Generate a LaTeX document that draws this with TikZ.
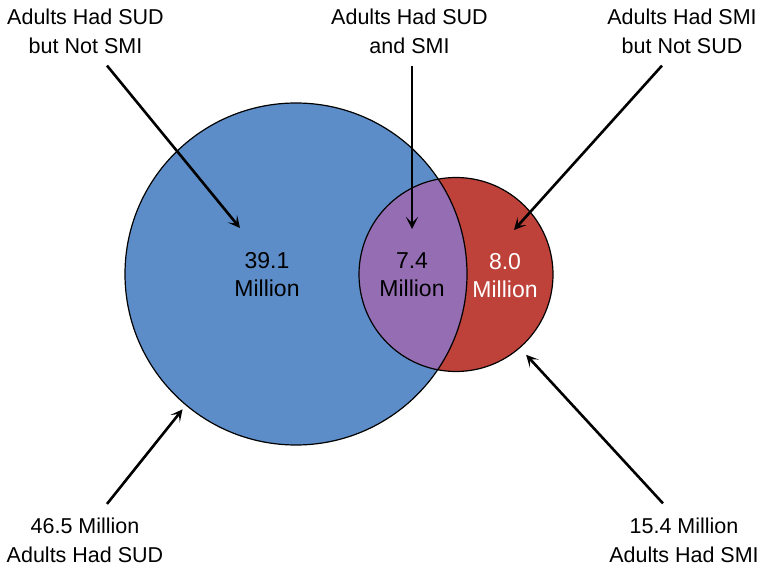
\documentclass[tikz,border=0pt]{standalone}
\usepackage{fontspec}
\setmainfont{Liberation Sans}
\usetikzlibrary{arrows.meta}
\definecolor{sudblue}{RGB}{92,141,200}
\definecolor{smired}{RGB}{190,66,58}
\definecolor{bothpurple}{RGB}{148,109,178}
\begin{document}
\begin{tikzpicture}[x=1pt,y=1pt,yscale=-1,xscale=1,
  lbl/.style={align=center,inner sep=3pt,font=\fontsize{21.5}{29}\selectfont},
  num/.style={align=center,inner sep=3pt,font=\fontsize{23}{28}\selectfont},
  ring/.style={circle,inner sep=0pt,line width=1.2pt},
  pointer/.style={line width=2.6pt,-{Stealth[length=12pt,width=12pt,inset=6pt]}}]
\useasboundingbox (0,0) rectangle (770,569);

%Circles
\node [ring,fill=sudblue,minimum size=342pt] (sud) at (296,274) {};
\node [ring,fill=smired,minimum size=194pt] (smi) at (456,274.5) {};
\begin{scope}
\clip (sud.center) circle (171pt);
\fill [bothpurple] (smi.center) circle (97pt);
\end{scope}
\draw [line width=1.2pt] (sud.center) circle (171pt);
\draw [line width=1.2pt] (smi.center) circle (97pt);

% Text Node
\node [num] (sudonlyval) at (267,275) {39.1\\Million};
\node [num] (bothval) at (412,275) {7.4\\Million};
\node [num,text=white] (smionlyval) at (505,275.5) {8.0\\Million};

% Labels
\node [lbl] (sudonly) at (85.5,31) {Adults Had SUD\\but Not SMI};
\node [lbl] (both) at (409.5,31) {Adults Had SUD\\and SMI};
\node [lbl] (smionly) at (682,31) {Adults Had SMI\\but Not SUD};
\node [lbl] (sudtotal) at (85,540.5) {46.5 Million\\Adults Had SUD};
\node [lbl] (smitotal) at (684,540) {15.4 Million\\Adults Had SMI};

%Arrow tips
\coordinate (sudonlytip) at (240,228);
\coordinate (bothtip) at (412,229);
\coordinate (smionlytip) at (514,230);

%Arrows
\draw [pointer] ([shift={(21.5,9)}]sudonly.south) -- (sudonlytip);
\draw [pointer] ([shift={(2.5,9)}]both.south) -- (bothtip);
\draw [pointer] ([shift={(-20,9)}]smionly.south) -- (smionlytip);
\draw [pointer,shorten >=5pt] ([shift={(22,-11)}]sudtotal.north) -- (sud.230);
\draw [pointer,shorten >=9pt] ([shift={(-21,-11)}]smitotal.north) -- (smi.-49);

\end{tikzpicture}
\end{document}
